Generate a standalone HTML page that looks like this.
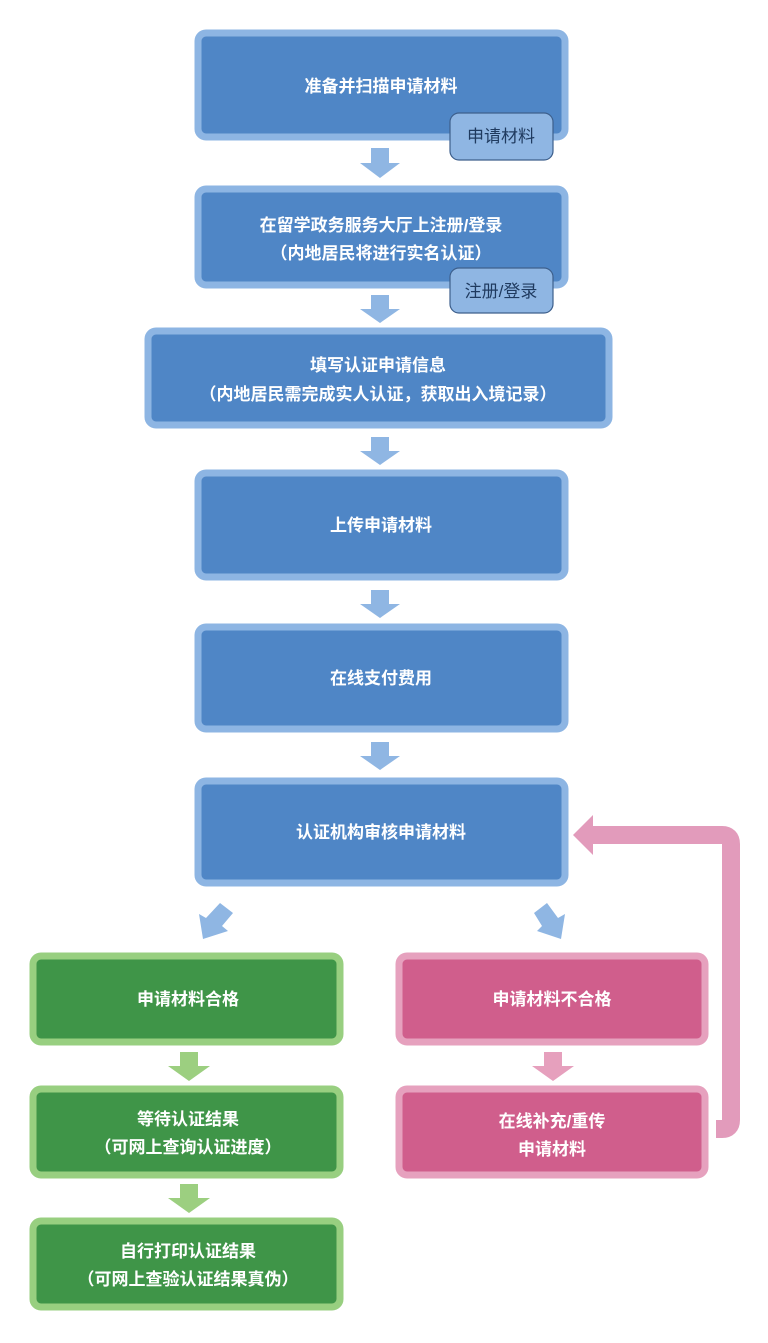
<!DOCTYPE html>
<html><head><meta charset="utf-8"><style>
html,body{margin:0;padding:0;background:#fff;}
svg text{font-family:"Liberation Sans","Noto Sans CJK SC",sans-serif;font-size:17px;fill:#fff;text-anchor:middle;font-weight:bold;}
</style></head><body>
<svg width="768" height="1338" viewBox="0 0 768 1338" xmlns="http://www.w3.org/2000/svg">
<!-- pink return path -->
<path d="M716 1129 L722 1129 Q731 1129 731 1120 L731 844 Q731 835 722 835 L592 835" fill="none" stroke="#e29bbb" stroke-width="18"/>
<polygon points="573,835 593,815 593,855" fill="#e29bbb"/>

<g stroke-width="7">
<rect x="198" y="33" width="367" height="104" rx="8" fill="#4f86c6" stroke="#8db5e3"/>
<rect x="198" y="189" width="367" height="96" rx="8" fill="#4f86c6" stroke="#8db5e3"/>
<rect x="148" y="331" width="461" height="94" rx="8" fill="#4f86c6" stroke="#8db5e3"/>
<rect x="198" y="473" width="367" height="104" rx="8" fill="#4f86c6" stroke="#8db5e3"/>
<rect x="198" y="627" width="367" height="102" rx="8" fill="#4f86c6" stroke="#8db5e3"/>
<rect x="198" y="781" width="367" height="102" rx="8" fill="#4f86c6" stroke="#8db5e3"/>
<rect x="33" y="956" width="307" height="86" rx="8" fill="#3f9548" stroke="#98cf80"/>
<rect x="33" y="1089" width="307" height="86" rx="8" fill="#3f9548" stroke="#98cf80"/>
<rect x="33" y="1221" width="307" height="86" rx="8" fill="#3f9548" stroke="#98cf80"/>
<rect x="399" y="956" width="306" height="86" rx="8" fill="#d05e8c" stroke="#e6a1be"/>
<rect x="399" y="1089" width="306" height="86" rx="8" fill="#d05e8c" stroke="#e6a1be"/>
</g>
<rect x="450" y="113" width="103" height="47" rx="9" fill="#8fb6e3" stroke="#3d5f8c" stroke-width="1.2"/>
<rect x="450" y="268" width="103" height="45" rx="9" fill="#8fb6e3" stroke="#3d5f8c" stroke-width="1.2"/>

<!-- blue arrows -->
<g fill="#8fb6e3">
<polygon points="371,148 389,148 389,163 400,163 380,178 360,163 371,163"/>
<polygon points="371,295 389,295 389,309 400,309 380,323 360,309 371,309"/>
<polygon points="371,437 389,437 389,451 400,451 380,465 360,451 371,451"/>
<polygon points="371,590 389,590 389,604 400,604 380,618 360,604 371,604"/>
<polygon points="371,742 389,742 389,756 400,756 380,770 360,756 371,756"/>
<polygon points="220,903 233,913 222,926 228,931 203,939 199,914 206,918"/>
<polygon points="534,913 547,903 558,918 565,914 561,939 537,931 542,926"/>
</g>
<g fill="#9ccf80">
<polygon points="180,1052 198,1052 198,1066 210,1066 189,1081 168,1066 180,1066"/>
<polygon points="180,1184 198,1184 198,1198 210,1198 189,1213 168,1198 180,1198"/>
</g>
<g fill="#e6a0bd">
<polygon points="544,1052 562,1052 562,1066 574,1066 553,1081 532,1066 544,1066"/>
</g>

<text x="381" y="92">准备并扫描申请材料</text>
<text x="501" y="142" style="fill:#1f3a5f;font-weight:normal">申请材料</text>
<text x="381" y="231">在留学政务服务大厅上注册/登录</text>
<text x="381" y="259">（内地居民将进行实名认证）</text>
<text x="501" y="297" style="fill:#1f3a5f;font-weight:normal">注册/登录</text>
<text x="378" y="371">填写认证申请信息</text>
<text x="378" y="400">（内地居民需完成实人认证，获取出入境记录）</text>
<text x="381" y="531">上传申请材料</text>
<text x="381" y="684">在线支付费用</text>
<text x="381" y="838">认证机构审核申请材料</text>
<text x="188" y="1005">申请材料合格</text>
<text x="188" y="1125">等待认证结果</text>
<text x="188" y="1153">（可网上查询认证进度）</text>
<text x="188" y="1257">自行打印认证结果</text>
<text x="188" y="1285">（可网上查验认证结果真伪）</text>
<text x="552" y="1005">申请材料不合格</text>
<text x="552" y="1127">在线补充/重传</text>
<text x="552" y="1155">申请材料</text>
</svg>
</body></html>
